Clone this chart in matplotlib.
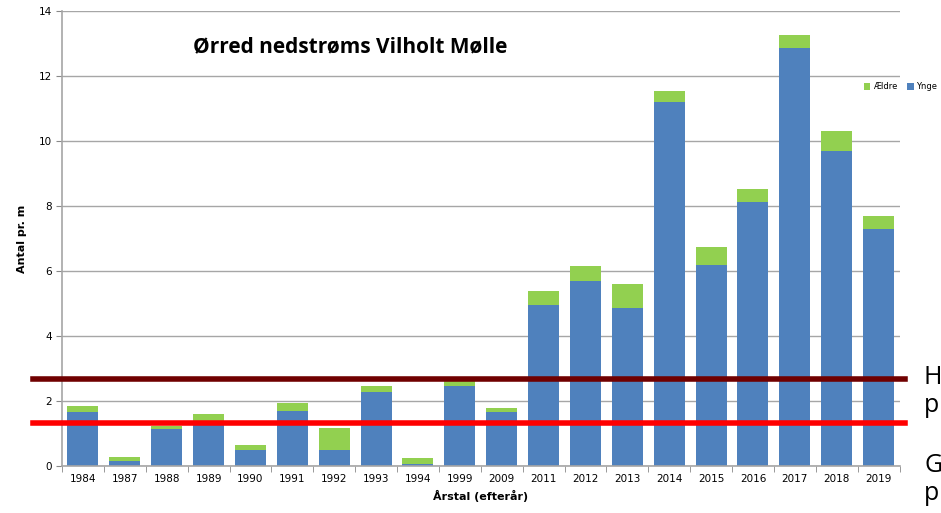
import matplotlib.pyplot as plt
import numpy as np

years = ['1984', '1987', '1988', '1989', '1990', '1991', '1992', '1993', '1994', '1999',
         '2009', '2011', '2012', '2013', '2014', '2015', '2016', '2017', '2018', '2019']
ynge = [1.66, 0.15, 1.14, 1.40, 0.48, 1.69, 0.48, 2.28, 0.05, 2.47,
        1.67, 4.95, 5.69, 4.86, 11.20, 6.18, 8.12, 12.86, 9.69, 7.29]
aeldre = [0.19, 0.13, 0.10, 0.20, 0.16, 0.26, 0.69, 0.19, 0.20, 0.25,
          0.12, 0.43, 0.46, 0.74, 0.34, 0.56, 0.40, 0.40, 0.61, 0.40]
level_high = 2.68
level_good = 1.32

blue = '#4F81BD'
green = '#92D050'

fig = plt.figure(figsize=(9.41, 5.13), dpi=100)
ax = fig.add_axes([0.0659, 0.0916, 0.890, 0.887])

x = np.arange(len(years))
b1 = ax.bar(x, ynge, width=0.74, color=blue, zorder=2, label='Ynge')
b2 = ax.bar(x, aeldre, width=0.74, bottom=ynge, color=green, zorder=2, label='Ældre')

ax.set_ylim(0, 14)
ax.set_xlim(-0.5, len(years) - 0.5)
ax.set_yticks(range(0, 15, 2))
ax.set_xticks(x)
ax.set_xticklabels(years)
ax.set_xticks(np.arange(-0.5, len(years), 1), minor=True)
ax.tick_params(axis='x', which='major', length=0, labelsize=7.5, pad=6)
ax.tick_params(axis='x', which='minor', length=4, color='#888888', direction='out')
ax.tick_params(axis='y', length=4, color='#888888', labelsize=7.5)
ax.grid(axis='y', color='#a6a6a6', linewidth=1, zorder=0)
for s in ['top', 'right']:
    ax.spines[s].set_visible(False)
for s in ['left', 'bottom']:
    ax.spines[s].set_color('#a6a6a6')
    ax.spines[s].set_linewidth(1.2)

ax.set_ylabel('Antal pr. m', fontsize=8, fontweight='bold', labelpad=8)
ax.set_xlabel('Årstal (efterår)', fontsize=8, fontweight='bold', labelpad=4)

ax.text(0.156, 0.921, 'Ørred nedstrøms Vilholt Mølle', transform=ax.transAxes,
        fontsize=15, fontweight='bold', family='Open Sans', va='center')

# reference levels
ax.axhline(level_high, xmin=-0.035, xmax=1.006, color='#700000', linewidth=4,
           clip_on=False, zorder=4)
ax.axhline(level_good, xmin=-0.035, xmax=1.006, color='#FF0000', linewidth=4,
           clip_on=False, zorder=4)

fig.legend([b2, b1], ['Ældre', 'Ynge'], loc='center left',
           bbox_to_anchor=(856 / 941, 1 - 87 / 513), ncol=2, frameon=False,
           fontsize=6, handlelength=0.8, handleheight=0.8, handletextpad=0.3,
           columnspacing=1.2)

# cut-off side text
for ch, ypx in [('H', 378), ('p', 405), ('G', 466), ('p', 493)]:
    fig.text(924 / 941, 1 - ypx / 513, ch, fontsize=18, family='Open Sans',
             va='center', ha='left')

fig.savefig('out.png', dpi=100)
